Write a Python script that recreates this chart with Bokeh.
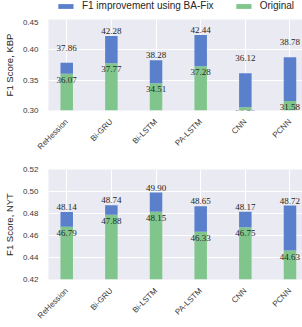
from bokeh.plotting import figure
from bokeh.models import (ColumnDataSource, LabelSet, Legend, LegendItem, FixedTicker,
                          NumeralTickFormatter, Range1d)
from bokeh.layouts import column
from bokeh.embed import file_html
from bokeh.resources import INLINE
import math

models = ["ReHession", "Bi-GRU", "Bi-LSTM", "PA-LSTM", "CNN", "PCNN"]
kbp_original = [36.07, 37.77, 34.51, 37.28, 30.53, 31.58]
kbp_improved = [37.86, 42.28, 38.28, 42.44, 36.12, 38.78]
nyt_original = [46.79, 47.88, 48.15, 46.33, 46.75, 44.63]
nyt_improved = [48.14, 48.74, 49.90, 48.65, 48.17, 48.72]
kbp_ticks = [0.30, 0.35, 0.40, 0.45]
nyt_ticks = [0.42, 0.44, 0.46, 0.48, 0.50, 0.52]
kbp_label_lift = [10, 0, 0, 0, 10, 10]
nyt_label_lift = [0, 0, 0, 0, 0, 0]
legend_labels = ["F1 improvement using BA-Fix", "Original"]

BLUE = "#5A80CC"
GREEN = "#80C68C"
BG = "#EAEAF2"
FONT = "Liberation Sans"
W = 302


def make(orig, impr, ticks, ylabel, lift, frame_h, top_border):
    xs = list(range(len(models)))
    src = ColumnDataSource(dict(
        x=xs,
        orig=[v / 100 for v in orig],
        impr=[v / 100 for v in impr],
        orig_txt=["%.2f" % v for v in orig],
        impr_txt=["%.2f" % v for v in impr],
        lift=[5 + l for l in lift],
        base=[ticks[0] - 0.1] * len(models),
    ))
    bottom_border = 38
    p = figure(width=W, height=top_border + frame_h + bottom_border,
               output_backend="svg", toolbar_location=None,
               x_range=Range1d(-0.408, 5.28), y_range=Range1d(ticks[0], ticks[-1]),
               min_border_left=37, min_border_right=0, min_border_top=top_border,
               min_border_bottom=bottom_border)
    p.background_fill_color = BG
    p.border_fill_color = "white"
    p.outline_line_color = None
    p.vbar(x="x", width=0.28, bottom="base", top="orig", source=src,
           fill_color=GREEN, line_color=None)
    p.vbar(x="x", width=0.28, bottom="orig", top="impr", source=src,
           fill_color=BLUE, line_color=None)
    p.add_layout(LabelSet(x="x", y="impr", text="impr_txt", source=src, y_offset="lift",
                          text_align="center", text_baseline="middle",
                          text_font_size="9px", text_font=FONT, text_color="#262626"))
    p.add_layout(LabelSet(x="x", y="orig", text="orig_txt", source=src, y_offset=-6,
                          text_align="center", text_baseline="middle",
                          text_font_size="9px", text_font=FONT, text_color="#262626"))

    p.xaxis.ticker = FixedTicker(ticks=xs)
    p.xaxis.major_label_overrides = {i: m for i, m in enumerate(models)}
    p.xaxis.major_label_orientation = math.pi / 4
    p.yaxis.ticker = FixedTicker(ticks=ticks)
    p.yaxis.formatter = NumeralTickFormatter(format="0.00")
    for ax in (p.xaxis, p.yaxis):
        ax.axis_line_color = None
        ax.major_tick_line_color = None
        ax.minor_tick_line_color = None
        ax.major_label_text_font = FONT
        ax.major_label_text_font_size = "8px"
        ax.major_label_text_color = "#3a3a3a"
        ax.major_label_standoff = 4
    p.yaxis.axis_label = ylabel
    p.yaxis.axis_label_text_font = FONT
    p.yaxis.axis_label_text_font_size = "9.5px"
    p.yaxis.axis_label_text_font_style = "normal"
    p.yaxis.axis_label_text_color = "#262626"
    p.yaxis.axis_label_standoff = 5
    p.grid.grid_line_color = "white"
    p.grid.grid_line_width = 1
    return p


# legend strip (its own small figure, swatches drawn by the legend)
p0 = figure(width=W, height=19, output_backend="svg", toolbar_location=None,
            x_axis_type=None, y_axis_type=None, min_border=0, min_border_left=42,
            x_range=Range1d(0, 1), y_range=Range1d(1, 2))
p0.outline_line_color = None
p0.grid.visible = False
key_src = ColumnDataSource(dict(x=[0.5], top=[0], bottom=[0]))
rb = p0.vbar(x="x", top="top", bottom="bottom", width=0.1, source=key_src,
             fill_color=BLUE, line_color=None)
rg = p0.vbar(x="x", top="top", bottom="bottom", width=0.1, source=key_src,
             fill_color=GREEN, line_color=None)
leg = Legend(items=[LegendItem(label=legend_labels[0], renderers=[rb]),
                    LegendItem(label=legend_labels[1], renderers=[rg])],
             orientation="horizontal", location="top_center",
             glyph_width=19, glyph_height=6, label_height=10,
             label_text_font=FONT, label_text_font_size="10px",
             label_text_color="#262626", label_standoff=7, spacing=20,
             padding=0, margin=0, border_line_color=None,
             background_fill_alpha=0)
p0.add_layout(leg)

p1 = make(kbp_original, kbp_improved, kbp_ticks, "F1 Score, KBP", kbp_label_lift, 100, 0)
p2 = make(nyt_original, nyt_improved, nyt_ticks, "F1 Score, NYT", nyt_label_lift, 119, 12)
layout = column(p0, p1, p2, spacing=0)

open("out.html", "w").write(file_html(layout, INLINE))
